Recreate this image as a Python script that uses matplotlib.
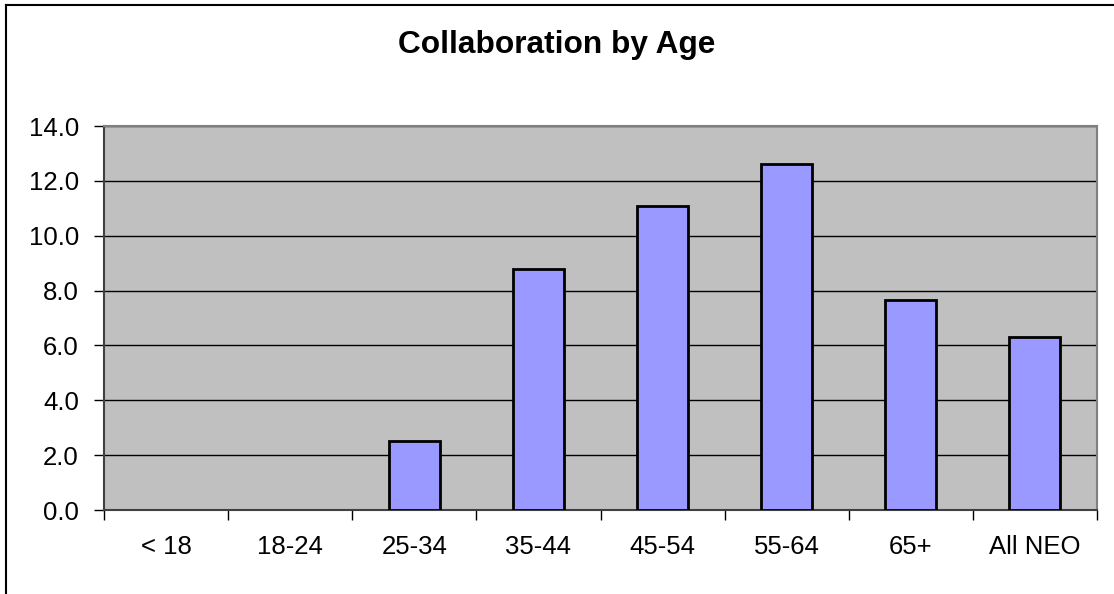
import numpy as np
import matplotlib.pyplot as plt
from matplotlib.lines import Line2D

plt.rcParams['font.family'] = ['Liberation Sans', 'DejaVu Sans']

# Chart data
categories = ['< 18', '18-24', '25-34', '35-44', '45-54', '55-64', '65+', 'All NEO']
values = [0.0, 0.0, 2.52, 8.80, 11.09, 12.63, 7.65, 6.31]
yticks = [0, 2, 4, 6, 8, 10, 12, 14]

fig = plt.figure(figsize=(11.14, 5.94), dpi=100)
ax = fig.add_axes([104 / 1114, 1 - 510 / 594, (1097 - 104) / 1114, (510 - 126) / 594])

ax.set_facecolor('#C0C0C0')
x = np.arange(len(categories))
# empty categories get no outline, like the original
lw = [0 if v == 0 else 2.0 for v in values]
ax.bar(x, values, width=0.41, color='#9999FF', edgecolor='black', linewidth=lw, zorder=3)

ax.set_ylim(0, 14)
ax.set_xlim(-0.5, len(categories) - 0.5)
ax.set_yticks(yticks)
ax.set_yticklabels(['%.1f' % v for v in yticks])
ax.yaxis.grid(True, color='black', linewidth=1.0, zorder=1)
ax.set_axisbelow(True)

# category ticks sit between the bars, labels in the middle
ax.set_xticks(np.arange(len(categories) + 1) - 0.5)
ax.set_xticklabels([])
ax.set_xticks(x, minor=True)
ax.set_xticklabels(categories, minor=True)
ax.tick_params(axis='x', which='minor', length=0, pad=18, labelsize=18.5)
ax.tick_params(axis='x', which='major', length=7, width=1, color='black')
ax.tick_params(axis='y', length=7, width=1, pad=11, labelsize=18.5)

for side in ['top', 'right']:
    ax.spines[side].set_color('#808080')
    ax.spines[side].set_linewidth(1.5)
ax.spines['left'].set_color('#404040')
ax.spines['left'].set_linewidth(1.5)
ax.spines['bottom'].set_color('#404040')
ax.spines['bottom'].set_linewidth(1.5)

fig.text(0.5, 1 - 45 / 594, 'Collaboration by Age', ha='center', va='center',
         fontsize=22.8, fontweight='bold')

# outer chart border (left and top edges visible)
fig.add_artist(Line2D([6 / 1114, 6 / 1114], [0, 1 - 5 / 594], color='black', linewidth=1.5,
                      transform=fig.transFigure))
fig.add_artist(Line2D([6 / 1114, 1], [1 - 5 / 594, 1 - 5 / 594], color='black', linewidth=1.5,
                      transform=fig.transFigure))

fig.savefig('out.png', dpi=100)
